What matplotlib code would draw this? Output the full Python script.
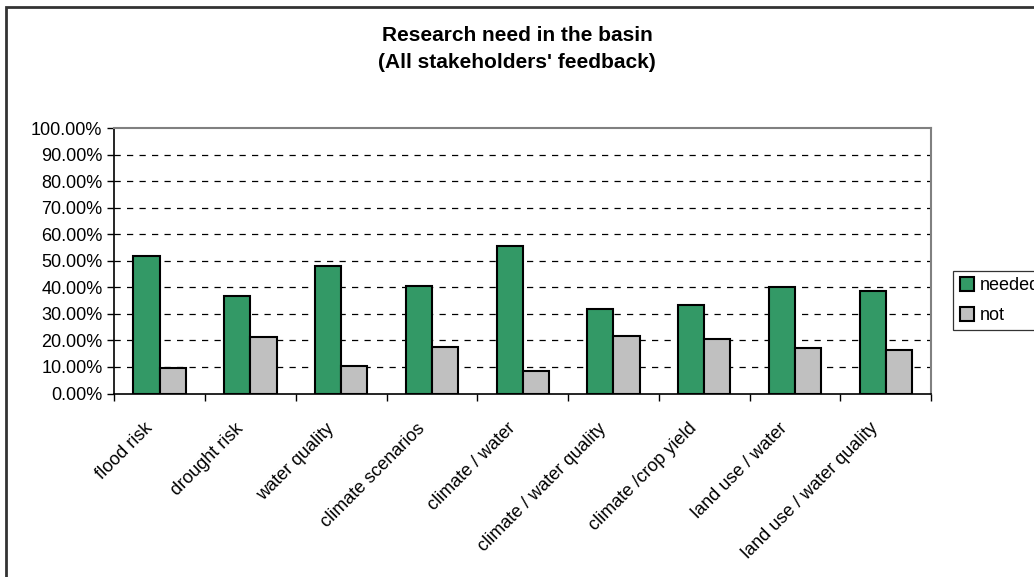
import matplotlib.pyplot as plt
import matplotlib.patches as mpatches
import matplotlib.transforms as mtransforms
import numpy as np

plt.rcParams['font.family'] = ['Liberation Sans', 'DejaVu Sans']

topics = ['flood risk', 'drought risk', 'water quality', 'climate scenarios',
          'climate / water', 'climate / water quality', 'climate /crop yield',
          'land use / water', 'land use / water quality']
needed = [0.518, 0.367, 0.482, 0.406, 0.556, 0.319, 0.333, 0.403, 0.385]
not_needed = [0.097, 0.213, 0.104, 0.174, 0.085, 0.218, 0.205, 0.171, 0.164]

green = '#339966'
grey = '#c0c0c0'

fig = plt.figure(figsize=(10.34, 5.77), dpi=100)
ax = fig.add_axes([0.1105, 0.318, 0.790, 0.460])

x = np.arange(len(topics))
w = 0.288
ax.bar(x - w / 2, needed, w, color=green, edgecolor='black', linewidth=1.5,
       label='needed', zorder=3)
ax.bar(x + w / 2, not_needed, w, color=grey, edgecolor='black', linewidth=1.5,
       label='not', zorder=3)

ax.set_xlim(-0.5, len(topics) - 0.5)
ax.set_ylim(0, 1.0)

# y axis: percent with two decimals
yt = np.arange(0, 1.01, 0.1)
ax.set_yticks(yt)
ax.set_yticklabels(['%.2f%%' % (v * 100) for v in yt], fontsize=13)
for v in yt[1:-1]:
    ax.axhline(v, color='black', linewidth=0.9, dashes=(5, 5), zorder=1)

# x axis ticks sit between the categories
ax.set_xticks(np.arange(-0.5, len(topics), 1.0))
ax.set_xticklabels([])
ax.set_xticks(x, minor=True)
ax.set_xticklabels(topics, minor=True, rotation=45, ha='right',
                   rotation_mode='anchor', fontsize=13)
ax.tick_params(axis='x', which='minor', length=0, pad=19)
ax.tick_params(axis='both', which='major', direction='out', length=5,
               width=1, color='black')
shift = mtransforms.ScaledTranslation(-16 / 100, 0, fig.dpi_scale_trans)
for lbl in ax.get_xticklabels(minor=True):
    lbl.set_transform(lbl.get_transform() + shift)

ax.spines['top'].set_color('#808080')
ax.spines['right'].set_color('#808080')
ax.spines['top'].set_linewidth(1.5)
ax.spines['right'].set_linewidth(1.5)
ax.spines['left'].set_linewidth(1.2)
ax.spines['bottom'].set_linewidth(1.2)

fig.suptitle("Research need in the basin\n(All stakeholders' feedback)",
             fontsize=15, fontweight='bold', y=1 - 49 / 577, va='center',
             linespacing=1.55)

leg = fig.legend(loc='upper left', bbox_to_anchor=(0.922, 0.531),
                 fontsize=13, fancybox=False, edgecolor='black',
                 handlelength=0.8, handleheight=0.8, handletextpad=0.3,
                 borderpad=0.35, labelspacing=0.7, borderaxespad=0)
leg.get_frame().set_linewidth(0.9)

# chart border, running off the right and bottom of the image
fig.patches.append(mpatches.Rectangle((0.006, -0.1), 1.2, 1.088,
                                      transform=fig.transFigure, fill=False,
                                      edgecolor='#333333', linewidth=2))

fig.savefig('out.png', dpi=100)
